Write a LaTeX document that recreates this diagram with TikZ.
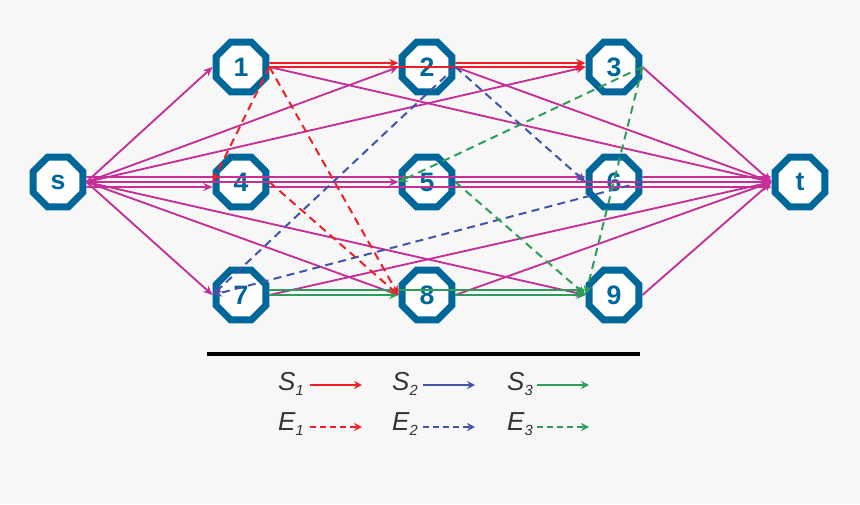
\documentclass[tikz,border=0pt]{standalone}
\usepackage{fontspec}
\setmainfont{Liberation Sans}
\usetikzlibrary{shapes.geometric,arrows.meta}

\definecolor{octblue}{RGB}{0,103,154}
\definecolor{flowmag}{RGB}{196,48,152}
\definecolor{sred}{RGB}{237,32,40}
\definecolor{sblue}{RGB}{64,84,168}
\definecolor{sgreen}{RGB}{44,157,90}
\definecolor{bggray}{RGB}{247,247,247}
\definecolor{legtxt}{RGB}{51,51,51}

% italic sub index of the legend
\newcommand{\legsub}[1]{\raisebox{-4pt}{\fontsize{11}{12}\selectfont #1}}

\tikzset{
  vert/.style={regular polygon, regular polygon sides=8, draw=octblue,
    line width=5.25pt, fill=white, minimum size=40.5pt, inner sep=0pt,
    text=octblue, font=\fontsize{20}{23}\selectfont\bfseries},
  tip/.style={-{Stealth[length=7pt,width=6pt]}},
  flow/.style={tip, draw=flowmag, line width=1.4pt},
  sub/.style={tip, line width=1.4pt},
  ext/.style={tip, line width=1.5pt, dash pattern=on 6pt off 4pt},
  legtext/.style={text=legtxt, font=\fontsize{19.5}{22}\selectfont\itshape, inner sep=0pt},
  legarrow/.style={line width=1.3pt, -{Stealth[length=6pt,width=6pt]}}
}

\begin{document}
\begin{tikzpicture}[x=0.75pt,y=-0.75pt]
  % background and frame
  \fill[bggray] (0,0) rectangle (860,504);
  \useasboundingbox (0,0) rectangle (860,504);

  % vertices
  \node[vert] (s) at (58,182) {s};
  \node[vert] (1) at (241,67) {1};
  \node[vert] (2) at (427,67) {2};
  \node[vert] (3) at (614,67) {3};
  \node[vert] (4) at (241,182) {4};
  \node[vert] (5) at (427,182) {5};
  \node[vert] (6) at (614,182) {6};
  \node[vert] (7) at (241,295) {7};
  \node[vert] (8) at (427,295) {8};
  \node[vert] (9) at (614,295) {9};
  \node[vert] (t) at (800,182) {t};

  % source edges
  \draw[flow] (s.east) -- (1.west);
  \draw[flow] (s.east) -- (2.west);
  \draw[flow] (s.east) -- (3.west);
  \draw[flow] ([yshift=-3.75pt]s.east) -- ([yshift=-3.75pt]4.west);
  \draw[flow] (s.east) -- (5.west);
  \draw[flow] ([yshift=3.75pt]s.east) -- ([yshift=3.75pt]6.west);
  \draw[flow] (s.east) -- (7.west);
  \draw[flow] (s.east) -- (8.west);
  \draw[flow] (s.east) -- (9.west);

  % sink edges
  \draw[flow] (1.east) -- (t.west);
  \draw[flow] (2.east) -- (t.west);
  \draw[flow] (3.east) -- (t.west);
  \draw[flow] ([yshift=-3.75pt]4.east) -- ([yshift=-3.75pt]t.west);
  \draw[flow] (5.east) -- (t.west);
  \draw[flow] ([yshift=3.75pt]6.east) -- ([yshift=3.75pt]t.west);
  \draw[flow] (7.east) -- (t.west);
  \draw[flow] (8.east) -- (t.west);
  \draw[flow] (9.east) -- (t.west);

  % S_1 and S_3
  \draw[sub,sred] ([yshift=3pt]1.east) -- ([yshift=3pt]2.west);
  \draw[sub,sred] ([yshift=3pt]2.east) -- ([yshift=3pt]3.west);
  \draw[sub,sred] (1.east) -- (3.west);
  \draw[sub,sgreen] (7.east) -- (8.west);
  \draw[sub,sgreen] (8.east) -- (9.west);
  \draw[sub,sgreen] ([yshift=3.75pt]7.east) -- ([yshift=3.75pt]9.west);

  % E_1, E_2, E_3
  \draw[ext,sred] (1.east) -- (4.west);
  \draw[ext,sred] (1.east) -- (8.west);
  \draw[ext,sred] (4.east) -- (8.west);
  \draw[ext,sblue] (2.east) -- (6.west);
  \draw[ext,sblue] (2.east) -- (7.west);
  \draw[ext,sblue] (6.east) -- (7.west);
  \draw[ext,sgreen] (3.east) -- (5.west);
  \draw[ext,sgreen] (3.east) -- (9.west);
  \draw[ext,sgreen] (5.east) -- (9.west);

  % legend
  \draw[line width=3pt] (207,354) -- (640,354);
  \node[legtext, anchor=base east] (s1) at (304,390) {S\legsub{1}};
  \node[legtext, anchor=base east] (s2) at (418,390) {S\legsub{2}};
  \node[legtext, anchor=base east] (s3) at (533,390) {S\legsub{3}};
  \node[legtext, anchor=base east] (e1) at (304,430) {E\legsub{1}};
  \node[legtext, anchor=base east] (e2) at (418,430) {E\legsub{2}};
  \node[legtext, anchor=base east] (e3) at (533,430) {E\legsub{3}};
  \coordinate (s1a) at (310,385); \coordinate (s1b) at (362,385);
  \coordinate (s2a) at (423,385); \coordinate (s2b) at (475,385);
  \coordinate (s3a) at (537,385); \coordinate (s3b) at (589,385);
  \coordinate (e1a) at (310,427); \coordinate (e1b) at (362,427);
  \coordinate (e2a) at (423,427); \coordinate (e2b) at (475,427);
  \coordinate (e3a) at (537,427); \coordinate (e3b) at (589,427);
  \draw[legarrow,sred] (s1a) -- (s1b);
  \draw[legarrow,sblue] (s2a) -- (s2b);
  \draw[legarrow,sgreen] (s3a) -- (s3b);
  \draw[legarrow,sred,dash pattern=on 4.5pt off 3pt] (e1a) -- (e1b);
  \draw[legarrow,sblue,dash pattern=on 4.5pt off 3pt] (e2a) -- (e2b);
  \draw[legarrow,sgreen,dash pattern=on 4.5pt off 3pt] (e3a) -- (e3b);
\end{tikzpicture}
\end{document}
